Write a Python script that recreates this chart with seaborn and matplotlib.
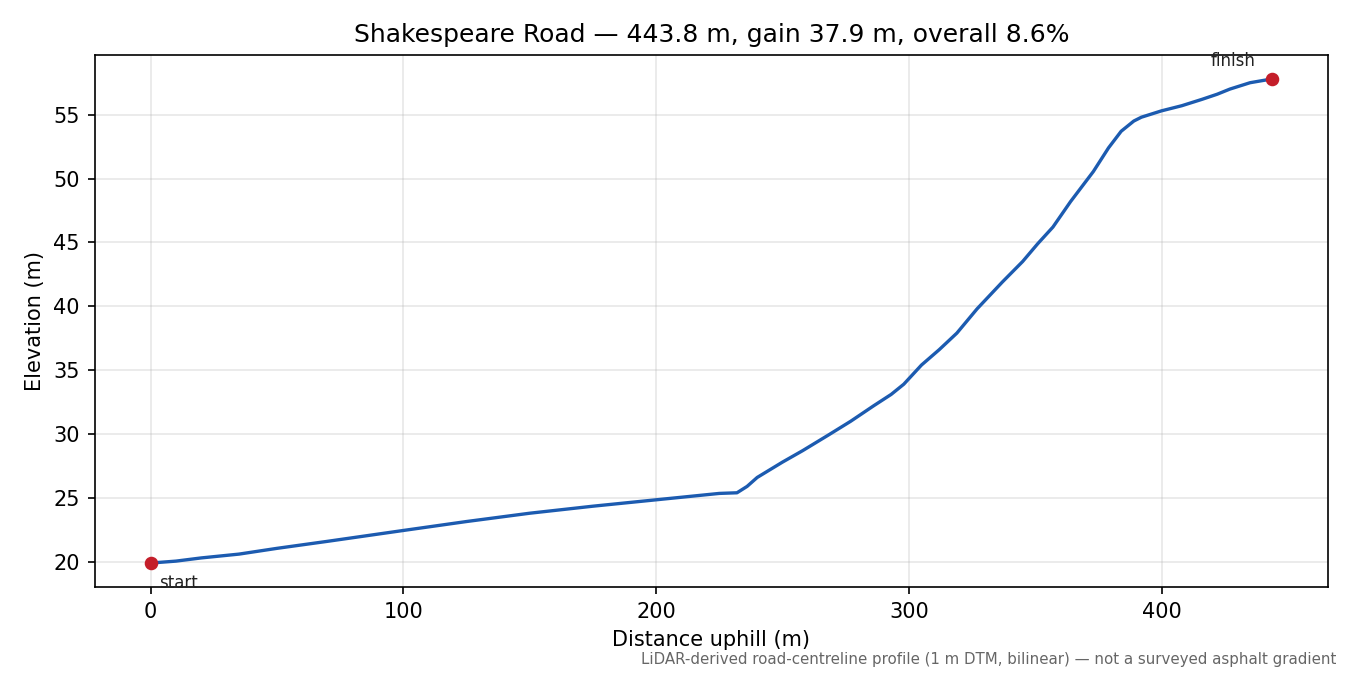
import matplotlib
matplotlib.use("Agg")
import matplotlib.pyplot as plt
import seaborn as sns
import pandas as pd

# profile
distancia = [0, 10, 20, 35, 50, 70, 100, 125, 150, 175, 200, 215, 225, 232,
             236, 240, 245, 250, 258, 268, 277, 286, 293, 298, 305, 312, 319,
             327, 337, 345, 351, 357, 364, 373, 379, 384, 389, 392, 400, 408,
             416, 422, 427, 435, 443.8]
elevacao = [19.9, 20.05, 20.3, 20.6, 21.05, 21.6, 22.45, 23.15, 23.8, 24.35,
            24.85, 25.15, 25.35, 25.4, 25.9, 26.6, 27.2, 27.8, 28.7, 29.9,
            31.0, 32.2, 33.1, 33.9, 35.4, 36.6, 37.9, 39.8, 41.9, 43.5, 44.9,
            46.2, 48.2, 50.55, 52.4, 53.7, 54.5, 54.8, 55.3, 55.7, 56.2, 56.6,
            57.0, 57.5, 57.8]

titulo = "Shakespeare Road \u2014 443.8 m, gain 37.9 m, overall 8.6%"
nota = ("LiDAR-derived road-centreline profile (1 m DTM, bilinear) \u2014 "
        "not a surveyed asphalt gradient")

dados = pd.DataFrame({'dist': distancia, 'elev': elevacao})

fig, ax = plt.subplots(figsize=(9, 4.5), dpi=150)
sns.lineplot(data=dados, x='dist', y='elev', ax=ax, color='#1c5bb0', linewidth=1.6)

ax.plot([distancia[0], distancia[-1]], [elevacao[0], elevacao[-1]], 'o',
        color='#c41e2a', markersize=5.5, zorder=5)
ax.annotate('start', (distancia[0], elevacao[0]), xytext=(4, -12),
            textcoords='offset points', fontsize=8, color='#222222')
ax.annotate('finish', (distancia[-1], elevacao[-1]), xytext=(-8, 6),
            textcoords='offset points', fontsize=8, ha='right', color='#222222')

ax.margins(x=0.05, y=0.05)
ax.grid(True, alpha=0.3)
ax.set_title(titulo, fontsize=12)
ax.set_xlabel('Distance uphill (m)', fontsize=10)
ax.set_ylabel('Elevation (m)', fontsize=10)

fig.subplots_adjust(left=0.070, right=0.984, top=0.919, bottom=0.130)
fig.text(0.990, 0.012, nota, ha='right', va='bottom', fontsize=7.2, color='#666666')
fig.savefig('out.png', dpi=150)
